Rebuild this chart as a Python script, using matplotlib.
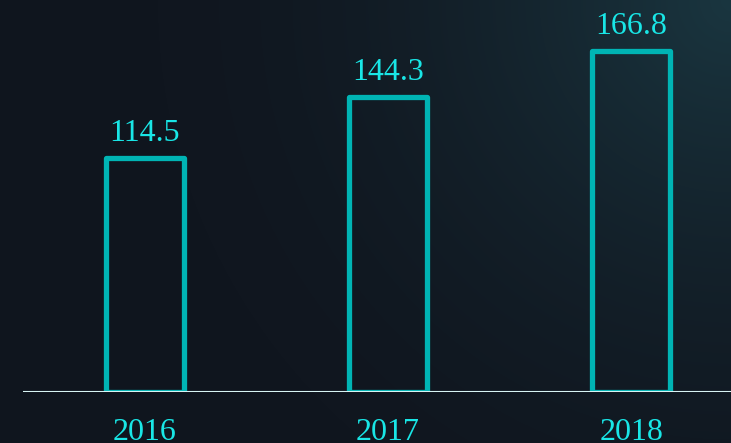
import numpy as np
import matplotlib.pyplot as plt
from matplotlib.colors import LinearSegmentedColormap

years = ['2016', '2017', '2018']
values = [114.5, 144.3, 166.8]

bar_color = '#00b4b4'
text_color = '#19e6e6'

fig = plt.figure(figsize=(7.31, 4.43), dpi=100)

# background: dark with a teal glow from the top-right corner
bg = fig.add_axes([0, 0, 1, 1])
yy, xx = np.mgrid[0:443, 0:731]
dist = np.hypot(xx - 731, yy) / 600.0
glow = np.clip(1 - dist, 0, 1) ** 1.8
cmap = LinearSegmentedColormap.from_list('bg', ['#10161f', '#1a3640'])
bg.imshow(glow, cmap=cmap, aspect='auto', extent=[0, 1, 0, 1], vmin=0, vmax=1)
bg.axis('off')

ax = fig.add_axes([23 / 731, 51 / 443, 708 / 731, 392 / 443])
ax.patch.set_alpha(0)
x = np.arange(len(years))
ax.bar(x, values, width=0.32, facecolor='none', edgecolor=bar_color, linewidth=3.8, joinstyle='round')
for xi, v in zip(x, values):
    ax.text(xi, v + 5, f'{v}', ha='center', va='bottom', color=text_color,
            family='Liberation Serif', fontsize=23)
for xi, yr in zip(x, years):
    ax.text(xi, -20, yr, ha='center', va='center', color=text_color,
            family='Liberation Serif', fontsize=23, clip_on=False)

ax.axhline(0, color='#d8f4f4', linewidth=1.5)
ax.set_xlim(-0.5, 2.41)
ax.set_ylim(0, 192)
ax.axis('off')

fig.savefig('out.png', dpi=100)
